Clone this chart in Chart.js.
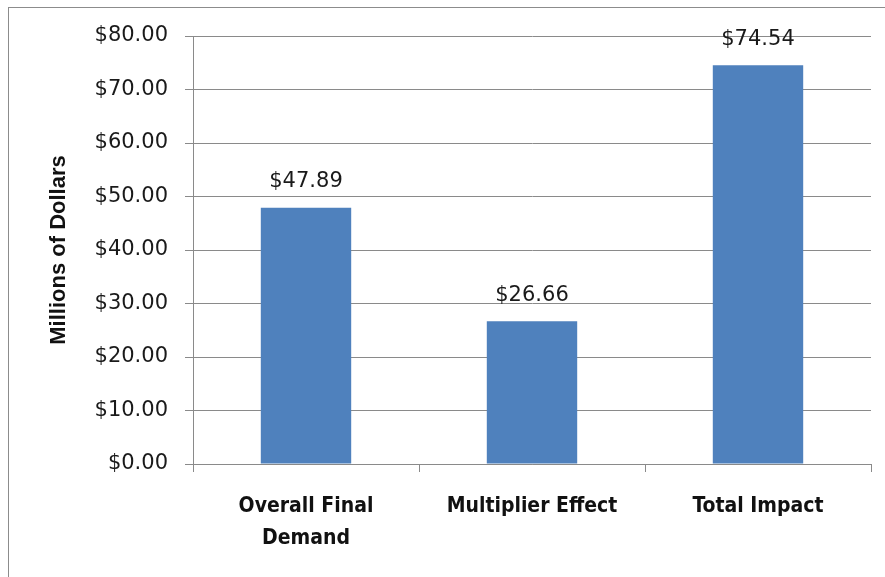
<!DOCTYPE html>
<html>
<head>
<meta charset="utf-8">
<script src="https://cdn.jsdelivr.net/npm/chart.js@4/dist/chart.umd.min.js"></script>
<style>
  html, body { margin: 0; padding: 0; background: #fff; }
  #wrap { position: relative; width: 885px; height: 577px; overflow: hidden; }
  #frame { position: absolute; left: 8px; top: 7px; width: 900px; height: 600px; border: 1px solid #8c8c8c; }
  canvas { position: absolute; left: 0; top: 0; }
</style>
</head>
<body>
<div id="wrap">
  <div id="frame"></div>
  <canvas id="chart" width="885" height="577"></canvas>
</div>
<script>
const categories = [['Overall Final', 'Demand'], 'Multiplier Effect', 'Total Impact'];
const values = [47.89, 26.66, 74.54];
const yTicks = [0, 10, 20, 30, 40, 50, 60, 70, 80];

const money = v => '$' + v.toFixed(2);
const gridColor = '#8a8a8a';

// labels above the bars
const valueLabels = {
    id: 'valueLabels',
    afterDatasetsDraw(chart) {
        const ctx = chart.ctx;
        const meta = chart.getDatasetMeta(0);
        ctx.save();
        ctx.font = '21px "DejaVu Sans"';
        ctx.fillStyle = '#1a1a1a';
        ctx.textAlign = 'center';
        ctx.textBaseline = 'middle';
        meta.data.forEach((bar, i) => {
            ctx.fillText(money(values[i]), bar.x, bar.y - 26);
        });
        ctx.restore();
    }
};

new Chart(document.getElementById('chart'), {
    type: 'bar',
    data: {
        labels: categories,
        datasets: [{
            data: values,
            backgroundColor: '#4f81bd',
            borderWidth: 0,
            categoryPercentage: 1,
            barPercentage: 0.4
        }]
    },
    options: {
        responsive: false,
        animation: false,
        layout: { padding: { top: 36, right: 14, left: 0, bottom: 0 } },
        plugins: { legend: { display: false }, tooltip: { enabled: false } },
        scales: {
            x: {
                grid: { drawOnChartArea: false, drawTicks: true, tickLength: 8, color: gridColor, offset: true },
                border: { color: gridColor },
                ticks: {
                    color: '#111',
                    padding: 19,
                    maxRotation: 0,
                    font: { family: '"Liberation Sans Narrow", "DejaVu Sans Condensed", "Liberation Sans"', size: 21, weight: 'bold', lineHeight: 1.52 }
                },
                afterFit(scale) { scale.height = 113; }
            },
            y: {
                min: 0,
                max: 80,
                afterBuildTicks(scale) { scale.ticks = yTicks.map(v => ({ value: v })); },
                grid: { color: gridColor, tickLength: 8 },
                border: { color: gridColor },
                ticks: {
                    color: '#1a1a1a',
                    padding: 17,
                    callback: v => money(v),
                    font: { family: '"DejaVu Sans"', size: 21 }
                },
                title: {
                    display: true,
                    text: 'Millions of Dollars',
                    color: '#111',
                    padding: { top: 46, bottom: 0 },
                    font: { family: '"Liberation Sans"', size: 22, weight: 'bold' }
                },
                afterFit(scale) { scale.width = 193; }
            }
        }
    },
    plugins: [valueLabels]
});
</script>
</body>
</html>
